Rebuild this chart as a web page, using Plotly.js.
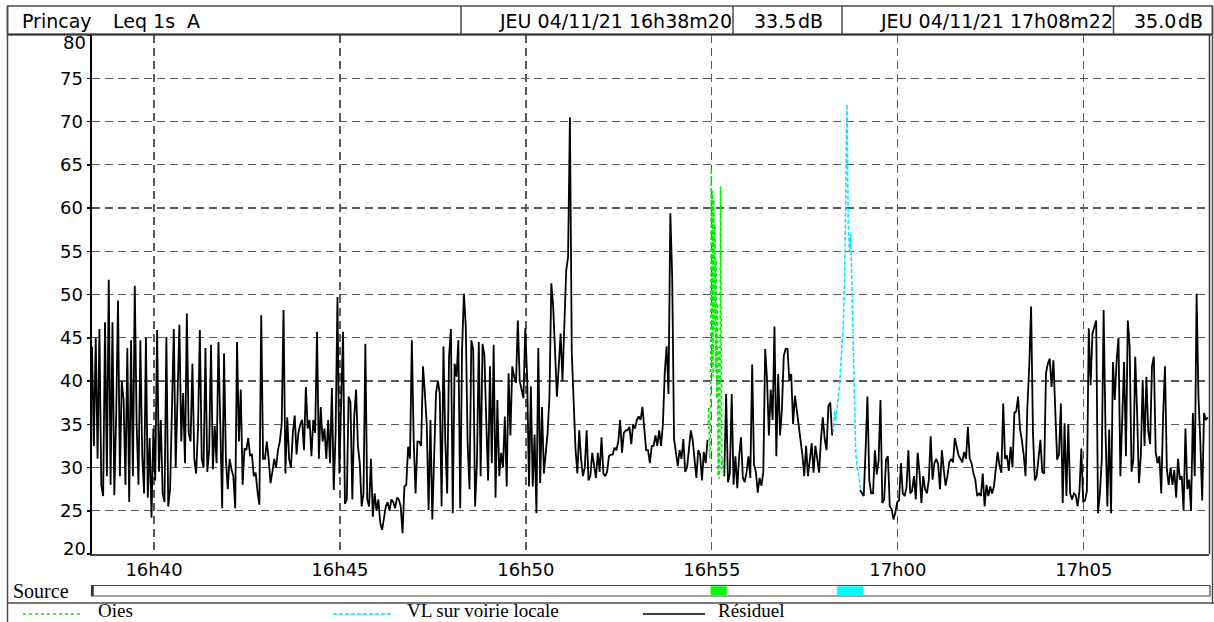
<!DOCTYPE html>
<html><head><meta charset="utf-8">
<script src="https://cdn.plot.ly/plotly-3.0.1.min.js"></script>
<style>html,body{margin:0;padding:0;background:#fff;overflow:hidden}#chart{width:1214px;height:622px}</style>
</head><body><div id="chart"></div>
<script>
// ---------- data ----------
const startTime = "16:38:20";
const endTime = "17:08:22";
const startLevel = "33.5";
const endLevel = "35.0";
const tickTimes = ["16:40:00","16:45:00","16:50:00","16:55:00","17:00:00","17:05:00"];
const tickLabels = ["16h40","16h45","16h50","16h55","17h00","17h05"];
const yTicks = [20,25,30,35,40,45,50,55,60,65,70,75,80];

const residuelStep = 3; // seconds between samples, from startTime
const residuel = [
44,32.5,45,31,46,28,26.7,46.8,29,51.7,
28,46.8,26.8,36,49.3,29,40,37.8,28,43.8,
26,44.7,29,51,35,28,44.7,31.5,27,45,
26.5,33.4,24.2,34.5,28.5,45.9,29.5,35.5,27,26,
45.1,25.5,27.5,36.5,46,30,38.5,46.5,33,38.6,
30.5,47.8,34,33,42,31,29.3,34.5,45.9,31,
30,43.8,29.5,32,44.2,29.8,34.8,30.5,44.5,34,
25.3,43.2,31,27.5,31,29.8,29,25.3,44.5,33,
39,28,32.2,32,33.4,31.4,31.5,29,29.4,27.2,
25.7,47.6,31,31,33,31,28.2,29.5,31,30,
32,33,
35,48.2,29.3,35.8,31,30,34,36,31.5,34,
35,35.5,32,39.3,34.5,35.5,31.3,35.5,34,45.7,
31,37,33,34.5,31,35.5,30.5,39.2,27.4,34,
49.7,29.3,37.8,45.7,25.8,26.3,38.2,37.5,26.3,35.8,
39,32.5,30.5,25.5,27,44.3,26.3,25.5,31,24.3,
27,25,26.3,23.6,22.8,24,25.5,26,25,26.3,
26,25.3,26.5,26.3,25.5,22.4,27.8,28,32.4,31,
44.7,33,27,33,33,32.5,41.7,38.6,35,25.1,
35.5,24,32.8,38.6,40,38.6,25.5,44,33,27,
42.8,46,24.7,42,40.5,44.7,25.3,43.6,50.1,46.3,
32.8,27.5,44.7,
43.6,25.5,30.5,44.5,29,44.3,43,35.5,28.5,41.7,
30.5,44.2,26.5,37.8,29,31.7,30,35.9,27.8,40.9,
33.7,41.7,40.5,39.8,47,40,39,38,46.1,40.5,
27.8,39.4,27.8,33.8,24.7,43.8,28.2,37,29.3,31.7,
34,38.2,51.3,48.6,42.4,38.2,41.7,45.5,40,47.4,
52.8,54.3,70.5,43.2,37.3,32.2,29.3,34.3,31,29,
30,34.3,28.5,29,31.7,30,28.8,31.7,29.5,33.5,
29.3,29,29.5,31.3,31.5,31.5,32.3,32,33,35.5,
31.7,34,34.3,34.3,34.7,32.7,35,34.5,35.5,35.9,
35.5,37,34.5,32,32,30.5,32.5,32.5,33.7,32.5,34.3,
32.5,35,41,44,38.5,59.4,52,33.3,31.5,30.2,
32,31,33.3,29.5,30,32.3,34.3,33.2,30.5,28.8,
32,31.5,28.5,31.8,30.5,33.2,
null,null,null,null,null,null,null,null,
29,38.5,28.3,29.3,38.5,28,31.3,27.6,31.3,33.5,
28.8,28.3,29.5,31.3,28.8,41.9,30.3,29.5,27.1,28.8,
27.9,29.5,43.7,40.2,33.7,39,35.5,46.3,31.3,40.8,
33.7,36.7,42.9,43.7,43.7,40,40.8,35,38.3,36.7,
35,33.7,31.5,29,32.5,29,31.3,32.8,29.4,32.5,
31,29.4,33.3,35.8,33.3,32,37.1,37.5,33.7,
null,null,null,null,null,null,null,null,null,null,null,null,null,null,
27.4,27,26.7,32,38.2,28.5,27,27,32,29.2,
30.8,37.8,25.9,26.3,30.9,31.3,25.5,25.2,24,24.8,
26,26.2,30.5,27,26.7,27.7,32,27,27.3,29,
26.3,31.7,29.4,25.9,29,27.5,27,28.6,33.6,28.6,
30.5,31,30.4,27.5,32,29.8,27.9,29,30.6,31,
30.6,33.4,32.5,31.4,31,30.6,31.8,31,34.7,31,
30.5,29.3,28.6,26.7,27,26.7,29.3,25.5,28,26.7,
27.8,27,27.8,29.6,31.8,30.2,29.4,37.4,31,31.4,
29.6,32.4,30,36.3,36.5,38.2,34.5,33.2,31.5,29,
37,41.7,48.6,34,28.5,
29,30.9,33.2,29.5,29.3,40.9,42,42.6,39.3,42.4,
37,30.9,31.5,37.4,25.9,35.1,26.7,35,27,26.3,
27,26.8,25.5,27.3,32.2,26,26.2,27.3,46.1,39.5,
45.5,46.3,47,24.7,27,30.9,48.2,34.4,25.5,34.4,
24.7,42.2,37.8,42.4,45,29,36.3,42.2,31.3,47,
44,29.5,30.9,42.8,36.3,28.2,31.3,40.1,32.5,40.5,
34.2,32.7,41.7,42.8,31.8,30.5,31.3,27,36,41.7,
29.8,28,30,28,29.7,26.5,31,28.6,29,25,
34.5,27.5,28.6,25,36.3,29,50.1,38.2,33,26.2,
36.3,35.5,35.8
];

const oiesStart = "16:54:54";
const oiesStep = 1;
const oies = [35,37,32,31,36,64.5,42,62,40.5,61,46,58,41,54,38,49,29,44,28.7,33,62.5,45,29.8,31,30,29];

const vlStart = "16:58:16";
const vlStep = 2;
const vl = [34,36.5,35.5,37,38.5,39.5,42,44,46.5,51,63,72,58,55,57,50,42,36,32,30,29.5,28.5,27.5];

const sourceOies = ["16:54:58","16:55:24"];
const sourceVl = ["16:58:22","16:59:04"];

const seriesNames = ["Oies","VL sur voirie locale","Résiduel"];
const seriesColors = ["#00ee00","#00e4ff","#000000"];
const headerSite = "Princay";
const headerMeasure = "Leq 1s  A";
const headerStart = "JEU 04/11/21 16h38m20";
const headerEnd = "JEU 04/11/21 17h08m22";

// ---------- helpers ----------
function sec(hms){const p=hms.split(":").map(Number);return p[0]*3600+p[1]*60+p[2];}
function timesFor(start, step, n){const s=sec(start);return Array.from({length:n},(_,i)=>s+i*step);}

const W=1214,H=622,L=92,R=5,T=35,B=68;
const PW=W-L-R, PH=H-T-B;
const X=v=>(v-L)/PW, Y=v=>(H-B-v)/PH;

const SANS="DejaVu Sans, Arial, sans-serif";
const SERIF="Liberation Serif, Times New Roman, serif";
const frame="#4a4a4a";

const traces=[
 {x:timesFor(startTime,residuelStep,residuel.length),y:residuel,type:"scatter",mode:"lines",
  line:{color:seriesColors[2],width:1.8},connectgaps:false,name:seriesNames[2],hoverinfo:"skip"},
 {x:timesFor(oiesStart,oiesStep,oies.length),y:oies,type:"scatter",mode:"lines",
  line:{color:seriesColors[0],width:1.6,dash:"dot"},name:seriesNames[0],hoverinfo:"skip"},
 {x:timesFor(vlStart,vlStep,vl.length),y:vl,type:"scatter",mode:"lines",
  line:{color:seriesColors[1],width:1.5,dash:"4px,2px"},name:seriesNames[1],hoverinfo:"skip"}
];

function hline(x0,x1,y,w,c,dash){return {type:"line",xref:"paper",yref:"paper",x0:X(x0),x1:X(x1),y0:Y(y),y1:Y(y),line:{color:c||frame,width:w||1.5,dash:dash||"solid"}};}
function vline(x,y0,y1,w,c){return {type:"line",xref:"paper",yref:"paper",x0:X(x),x1:X(x),y0:Y(y0),y1:Y(y1),line:{color:c||frame,width:w||1.5}};}

const shapes=[
 {type:"rect",xref:"paper",yref:"paper",x0:X(7.5),x1:X(1212.5),y0:Y(6),y1:Y(34.5),line:{color:frame,width:1.5},fillcolor:"rgba(0,0,0,0)"},
 hline(7.5,1212.5,34.5,2.2,"#333"),
 vline(461,6,34.5), vline(733,6,34.5), vline(842,6,34.5), vline(1113.5,6,34.5),
 vline(7.5,6,622,1.5),
 vline(1212.5,6,603,1.5),
 vline(1209.5,34.5,554,1.5,"#333"),
 hline(7.5,1214,603,1.5),
 {type:"rect",xref:"paper",yref:"paper",x0:X(91.5),x1:X(1210),y0:Y(585.5),y1:Y(596),line:{color:frame,width:1.2},fillcolor:"#fff"},
 vline(92.5,585.5,596,2.5,"#333"),
 {type:"rect",xref:"x",yref:"paper",x0:sec(sourceOies[0]),x1:sec(sourceOies[1]),y0:Y(586.3),y1:Y(595.3),line:{width:0},fillcolor:"#00ff00"},
 {type:"rect",xref:"x",yref:"paper",x0:sec(sourceVl[0]),x1:sec(sourceVl[1]),y0:Y(586.3),y1:Y(595.3),line:{width:0},fillcolor:"#00ffff"},
 hline(23,83,614,1.5,seriesColors[0],"dot"),
 hline(333,393,614,1.5,seriesColors[1],"4px,2px"),
 hline(643,705,614,1.5,seriesColors[2])
];

function ann(text,x,y,anchor,font,size,yanchor){return {text:text,xref:"paper",yref:"paper",x:X(x),y:Y(y),xanchor:anchor,yanchor:yanchor||"middle",showarrow:false,borderpad:0,font:{family:font,size:size,color:"#000"}};}
const lastTick = yTicks.length-1;
const annotations=[
 ann(headerSite,21,20.5,"left",SANS,19),
 ann(headerMeasure,112,20.5,"left",SANS,19),
 ann(headerStart,733,20.5,"right",SANS,19),
 ann(startLevel,797,20.5,"right",SANS,19),
 ann("dB",797,20.5,"left",SANS,19),
 ann(headerEnd,1113.5,20.5,"right",SANS,19),
 ann(endLevel,1177,20.5,"right",SANS,19),
 ann("dB",1177,20.5,"left",SANS,19),
 ann(String(yTicks[lastTick]),87,42,"right",SANS,18),
 ann(String(yTicks[0]),87,548,"right",SANS,18),
 ann("Source",12,591,"left",SERIF,20),
 ann(seriesNames[0],97,621.5,"left",SERIF,19,"bottom"),
 ann(seriesNames[1],406,621.5,"left",SERIF,19,"bottom"),
 ann(seriesNames[2],717,621.5,"left",SERIF,19,"bottom")
];

const grid="#5a5a5a";
const layout={
 width:W,height:H,margin:{l:L,r:R,t:T,b:B,pad:0},
 paper_bgcolor:"#fff",plot_bgcolor:"#fff",showlegend:false,
 xaxis:{type:"linear",range:[sec(startTime),sec(endTime)],tickmode:"array",
   tickvals:tickTimes.map(sec),ticktext:tickLabels,showgrid:true,gridcolor:grid,gridwidth:1.2,griddash:"8px,5px",
   zeroline:false,showline:true,linecolor:"#444",linewidth:1.5,ticks:"",ticklabelstandoff:-1,
   tickfont:{family:SANS,size:18,color:"#000"}},
 yaxis:{range:[20,80],tickmode:"array",tickvals:yTicks,
   ticktext:yTicks.map((v,i)=>(i===0||i===lastTick)?"":String(v)),
   showgrid:true,gridcolor:grid,gridwidth:1.2,griddash:"8px,5px",
   zeroline:false,showline:true,linecolor:"#000",linewidth:2.5,ticks:"outside",ticklen:3,tickwidth:1.5,tickcolor:"#000",
   tickfont:{family:SANS,size:18,color:"#000"}},
 shapes:shapes,annotations:annotations
};
Plotly.newPlot("chart",traces,layout,{displayModeBar:false,staticPlot:true});
</script></body></html>
